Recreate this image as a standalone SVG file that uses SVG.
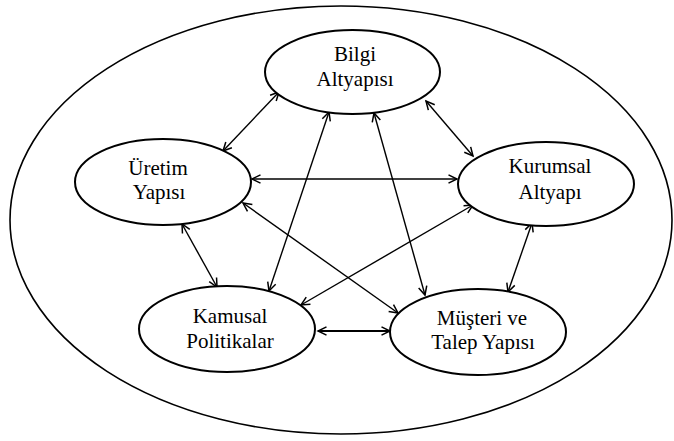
<svg xmlns="http://www.w3.org/2000/svg" width="674" height="441" viewBox="0 0 674 441">
<style>
.node ellipse{fill:#fff;stroke:#000;stroke-width:2}
.outer{fill:#fff;stroke:#000;stroke-width:1.6}
text{font-family:"Liberation Serif","Times New Roman",serif;font-size:21px;fill:#000;text-anchor:middle}
.c line{stroke:#000;stroke-width:1.4;marker-start:url(#ah);marker-end:url(#ah)}
</style>
<defs>
<marker id="ah" markerUnits="userSpaceOnUse" markerWidth="12" markerHeight="12" viewBox="0 0 12 12" refX="10" refY="6" orient="auto-start-reverse">
<path d="M1.5,1.8 L10,6 L1.5,10.2" fill="none" stroke="#000" stroke-width="1.5"/>
</marker>
</defs>
<rect width="674" height="441" fill="#fff"/>
<ellipse class="outer" cx="341" cy="220" rx="331" ry="214"/>
<g class="c" id="connectors">
<line x1="279" y1="92" x2="223" y2="151"/>
<line x1="426" y1="101" x2="473" y2="156"/>
<line x1="329" y1="112" x2="269" y2="291"/>
<line x1="374" y1="113" x2="425" y2="295"/>
<line x1="252" y1="179" x2="457" y2="179"/>
<line x1="182" y1="224" x2="217" y2="287"/>
<line x1="243" y1="203" x2="398" y2="313"/>
<line x1="473" y1="205" x2="301" y2="305"/>
<line x1="532" y1="223" x2="508" y2="292"/>
<line x1="318" y1="331" x2="390" y2="331" style="stroke-width:2"/>
</g>
<g class="node" id="bilgi">
<ellipse cx="352.5" cy="72" rx="87.5" ry="42"/>
<text x="355" y="61">Bilgi</text>
<text x="355" y="86">Altyapısı</text>
</g>
<g class="node" id="uretim">
<ellipse cx="163" cy="182" rx="88" ry="43"/>
<text x="158" y="175">Üretim</text>
<text x="159" y="199">Yapısı</text>
</g>
<g class="node" id="kurumsal">
<ellipse cx="546" cy="184" rx="88" ry="42"/>
<text x="550" y="173">Kurumsal</text>
<text x="550" y="199">Altyapı</text>
</g>
<g class="node" id="kamusal">
<ellipse cx="227" cy="329" rx="88" ry="43"/>
<text x="230" y="323">Kamusal</text>
<text x="230" y="348">Politikalar</text>
</g>
<g class="node" id="musteri">
<ellipse cx="478" cy="332" rx="88" ry="43"/>
<text x="482" y="325">Müşteri ve</text>
<text x="483" y="349">Talep Yapısı</text>
</g>
</svg>
